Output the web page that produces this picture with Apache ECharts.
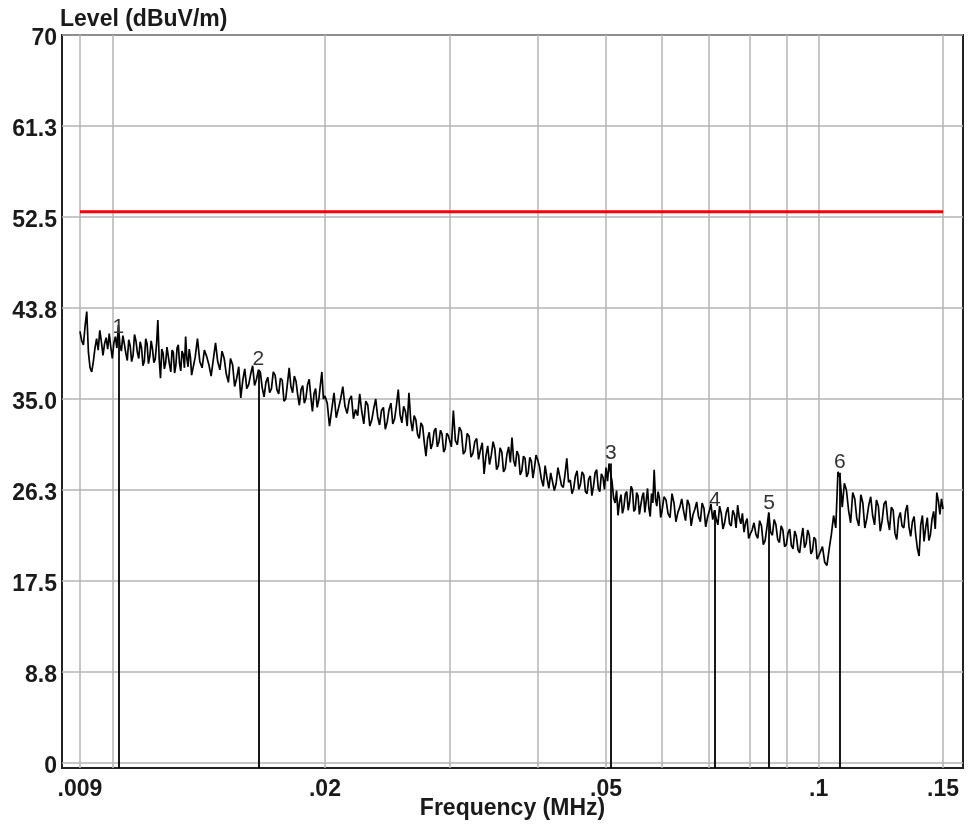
<!DOCTYPE html>
<html>
<head>
<meta charset="utf-8">
<title>Level (dBuV/m)</title>
<script src="https://cdn.jsdelivr.net/npm/echarts@6/dist/echarts.min.js"></script>
<style>
  html, body { margin: 0; padding: 0; background: #fff; }
  #chart { width: 970px; height: 831px; }
</style>
</head>
<body>
<div id="chart"></div>
<script type="text/javascript">
  var freq = [
    0.00900,0.00905,0.00910,0.00915,0.00920,0.00925,0.00930,0.00935,0.00940,0.00945,
    0.00950,0.00955,0.00960,0.00965,0.00970,0.00975,0.00980,0.00985,0.00990,0.00995,
    0.01000,0.01005,0.01010,0.01015,0.01020,0.01025,0.01030,0.01035,0.01040,0.01045,
    0.01050,0.01055,0.01060,0.01065,0.01070,0.01075,0.01080,0.01085,0.01090,0.01095,
    0.01100,0.01105,0.01110,0.01115,0.01120,0.01125,0.01130,0.01135,0.01140,0.01145,
    0.01150,0.01155,0.01160,0.01165,0.01170,0.01175,0.01180,0.01185,0.01190,0.01195,
    0.01200,0.01205,0.01210,0.01215,0.01220,0.01225,0.01230,0.01235,0.01240,0.01245,
    0.01250,0.01255,0.01260,0.01265,0.01270,0.01275,0.01280,0.01285,0.01290,0.01295,
    0.01300,
    0.0131,0.0132,0.0133,0.0134,0.0135,0.0136,0.0137,0.0138,0.0139,0.0140,
    0.0141,0.0142,0.0143,0.0144,0.0145,0.0146,0.0147,0.0148,0.0149,0.0150,
    0.0151,0.0152,0.0153,0.0154,0.0155,0.0156,0.0157,0.0158,0.0159,0.0160,
    0.0161,0.0162,0.0163,0.0164,0.0165,0.0166,0.0167,0.0168,0.0169,0.0170,
    0.0171,0.0172,0.0173,0.0174,0.0175,0.0176,0.0177,0.0178,0.0179,0.0180,
    0.0181,0.0182,0.0183,0.0184,0.0185,0.0186,0.0187,0.0188,0.0189,0.0190,
    0.0191,0.0192,0.0193,0.0194,0.0195,0.0196,0.0197,0.0198,0.0199,0.0200,
    0.02015,0.02030,0.02045,0.02060,0.02075,0.02090,0.02105,0.02120,0.02135,0.02150,
    0.02165,0.02180,0.02195,0.02210,0.02225,0.02240,0.02255,0.02270,0.02285,0.02300,
    0.02315,0.02330,0.02345,0.02360,0.02375,0.02390,0.02405,0.02420,0.02435,0.02450,
    0.02465,0.02480,0.02495,0.02510,0.02525,0.02540,0.02555,0.02570,0.02585,0.02600,
    0.02615,0.02630,0.02645,0.02660,0.02675,0.02690,0.02705,0.02720,0.02735,0.02750,
    0.02765,0.02780,0.02795,0.02810,0.02825,0.02840,0.02855,0.02870,0.02885,0.02900,
    0.02915,0.02930,0.02945,0.02960,0.02975,0.02990,
    0.0302,0.0304,0.0306,0.0308,0.0310,0.0312,0.0314,0.0316,0.0318,0.0320,
    0.0322,0.0324,0.0326,0.0328,0.0330,0.0332,0.0334,0.0336,0.0338,0.0340,
    0.0342,0.0344,0.0346,0.0348,0.0350,0.0352,0.0354,0.0356,0.0358,0.0360,
    0.0362,0.0364,0.0366,0.0368,0.0370,0.0372,0.0374,0.0376,0.0378,0.0380,
    0.0382,0.0384,0.0386,0.0388,0.0390,0.0392,0.0394,0.0396,0.0398,0.0400,
    0.04025,0.04050,0.04075,0.04100,0.04125,0.04150,0.04175,0.04200,0.04225,0.04250,
    0.04275,0.04300,0.04325,0.04350,0.04375,0.04400,0.04425,0.04450,0.04475,0.04500,
    0.04525,0.04550,0.04575,0.04600,0.04625,0.04650,0.04675,0.04700,0.04725,0.04750,
    0.04775,0.04800,0.04825,0.04850,0.04875,0.04900,0.04925,0.04950,0.04975,0.05000,
    0.05025,0.05050,0.05075,0.05100,0.05125,0.05150,0.05175,0.05200,0.05225,0.05250,
    0.05275,0.05300,0.05325,0.05350,0.05375,0.05400,0.05425,0.05450,0.05475,0.05500,
    0.05525,0.05550,0.05575,0.05600,0.05625,0.05650,0.05675,0.05700,0.05725,0.05750,
    0.05775,0.05800,0.05825,0.05850,0.05875,0.05900,0.05925,0.05950,0.05975,0.06000,
    0.0604,0.0608,0.0612,0.0616,0.0620,0.0624,0.0628,0.0632,0.0636,0.0640,
    0.0644,0.0648,0.0652,0.0656,0.0660,0.0664,0.0668,0.0672,0.0676,0.0680,
    0.0684,0.0688,0.0692,0.0696,0.0700,0.0704,0.0708,0.0712,0.0716,0.0720,
    0.0724,0.0728,0.0732,0.0736,0.0740,0.0744,0.0748,0.0752,0.0756,0.0760,
    0.0764,0.0768,0.0772,0.0776,0.0780,0.0784,0.0788,0.0792,0.0796,0.0800,
    0.0805,0.0810,0.0815,0.0820,0.0825,0.0830,0.0835,0.0840,0.0845,0.0850,
    0.0855,0.0860,0.0865,0.0870,0.0875,0.0880,0.0885,0.0890,0.0895,0.0900,
    0.0905,0.0910,0.0915,0.0920,0.0925,0.0930,0.0935,0.0940,0.0945,0.0950,
    0.0955,0.0960,0.0965,0.0970,0.0975,0.0980,0.0985,0.0990,0.0995,0.1000,
    0.10125,0.10200,0.10275,0.10350,0.10425,0.10500,0.10575,0.10650,0.10725,0.10800,
    0.10875,0.10950,0.11025,0.11100,0.11175,0.11250,0.11325,0.11400,0.11475,0.11550,
    0.11625,0.11700,0.11775,0.11850,0.11925,0.12000,0.12075,0.12150,0.12225,0.12300,
    0.12375,0.12450,0.12525,0.12600,0.12675,0.12750,0.12825,0.12900,0.12975,0.13050,
    0.13125,0.13200,0.13275,0.13350,0.13425,0.13500,0.13575,0.13650,0.13725,0.13800,
    0.13875,0.13950,0.14025,0.14100,0.14175,0.14250,0.14325,0.14400,0.14475,0.14550,
    0.14625,0.14700,0.14775,0.14850,0.14925,0.15000
  ];
  var level = [
    41.5,40.6,40.2,42.0,43.4,39.5,38.0,37.6,38.6,39.9,
    40.8,39.7,41.6,40.5,39.2,40.3,40.9,39.8,41.3,40.0,
    38.9,40.4,41.0,39.9,42.1,40.2,39.6,41.1,40.3,39.4,
    38.7,40.7,40.1,38.6,39.2,41.2,40.6,39.5,38.9,40.5,
    39.9,38.2,38.6,40.8,40.3,38.4,39.1,40.6,39.8,38.5,
    38.8,40.2,42.6,38.9,37.0,39.8,39.4,37.9,38.5,40.0,
    40.1,38.3,37.6,39.7,39.5,37.5,38.2,39.9,40.2,38.4,
    37.7,39.6,39.3,38.0,41.0,38.9,38.1,39.8,39.0,37.3,
    37.4,
    39.0,40.8,38.6,38.0,39.7,39.1,38.3,37.2,38.8,40.4,
    38.6,37.8,39.6,38.9,37.4,36.6,38.9,38.3,36.2,37.0,
    38.1,35.1,36.8,37.9,36.0,36.4,37.4,38.2,36.3,36.9,
    37.8,37.6,36.1,35.2,36.6,37.1,35.6,36.0,37.6,37.3,
    35.9,35.5,37.0,36.8,34.8,35.0,36.5,38.0,36.2,35.6,
    37.2,36.7,35.4,34.4,35.9,36.3,34.6,35.1,36.4,36.9,
    35.2,33.8,35.5,36.0,34.2,34.9,36.3,37.6,35.0,35.3,
    34.6,32.4,34.0,35.6,33.2,34.1,35.0,36.2,34.3,33.6,
    34.9,35.3,33.1,34.0,33.4,35.5,33.8,32.6,34.8,34.4,
    32.4,33.0,34.1,35.0,33.3,32.5,33.9,34.2,32.1,32.8,
    34.0,34.6,32.6,33.1,34.4,35.9,33.5,32.7,34.3,33.8,
    32.4,35.6,33.0,31.9,33.4,33.0,31.6,31.2,32.7,32.4,
    30.8,29.5,31.2,31.8,30.2,30.7,31.9,32.2,30.4,30.9,
    32.0,31.6,29.9,30.2,31.7,31.5,
    30.4,33.9,31.0,30.6,32.3,31.9,29.7,30.0,31.7,31.4,
    29.4,29.8,30.9,31.2,29.2,30.1,30.8,27.8,29.5,30.5,
    28.7,29.6,30.9,30.2,28.2,28.6,30.3,29.9,28.0,28.3,
    29.7,30.4,28.9,31.3,29.1,28.5,30.0,29.6,27.7,28.1,
    29.5,29.3,27.5,27.9,29.4,29.0,27.4,28.4,29.6,29.2,
    28.5,27.3,26.6,28.6,27.4,26.4,27.9,28.0,26.2,26.9,
    28.4,28.3,26.7,26.5,27.8,29.3,27.0,27.2,25.9,26.4,
    27.6,28.1,26.3,26.8,28.0,27.7,26.1,25.9,27.3,27.6,
    25.7,26.6,27.9,28.2,26.4,26.1,27.8,27.5,26.3,28.4,
    27.1,28.8,28.9,27.0,25.5,25.0,26.2,23.8,25.1,25.8,
    24.0,24.6,25.9,26.1,24.3,25.1,26.6,26.3,24.2,24.4,
    26.0,25.7,23.9,24.8,25.6,26.0,24.1,25.2,26.4,24.5,
    23.7,25.9,25.0,28.2,25.4,24.7,26.1,25.5,23.6,24.2,
    25.6,25.3,24.0,23.6,25.9,25.0,23.2,24.1,24.6,25.4,
    24.2,23.3,25.3,24.8,22.8,23.9,24.4,25.1,23.7,23.2,
    25.0,24.5,22.7,23.6,24.2,24.9,23.4,24.3,23.5,22.9,
    24.7,24.0,22.5,23.1,24.1,24.6,23.0,22.8,24.3,23.9,
    22.6,24.8,23.6,23.0,24.0,22.2,23.1,23.5,21.6,22.0,
    22.4,23.1,22.0,21.6,23.3,22.8,21.0,21.4,22.7,24.1,
    22.2,21.9,23.4,22.9,21.5,21.2,22.8,22.4,20.8,21.0,
    22.1,22.5,20.9,20.6,22.3,21.8,20.5,20.2,21.6,22.6,
    20.7,21.1,22.4,21.9,20.1,20.4,21.7,21.5,19.6,19.9,
    20.8,19.3,19.0,20.6,22.0,23.8,22.6,28.0,27.4,24.6,
    26.9,26.2,24.3,23.1,26.0,25.4,23.5,22.8,25.8,25.0,
    22.6,23.5,24.8,25.6,23.8,22.9,25.3,24.7,22.3,23.3,
    24.9,25.2,23.4,22.4,24.6,24.3,22.1,21.5,23.5,24.1,
    22.8,22.6,24.2,24.8,22.7,21.8,23.2,23.7,21.9,20.6,
    19.9,22.9,23.8,21.3,22.6,23.6,21.4,22.0,23.5,24.2,
    22.5,26.0,25.2,23.9,25.4,24.4
  ];

  // limit line
  var limitFreq = [0.009, 0.15];
  var limitLevel = [53, 53];

  // peak markers
  var markerFreq = [0.0102, 0.0161, 0.0508, 0.0713, 0.0851, 0.1072];
  var markerLevel = [40.9, 37.8, 28.8, 24.3, 24.0, 27.9];
  var markerName = ['1', '2', '3', '4', '5', '6'];

  // axes
  var xGridValues = [0.009, 0.01, 0.02, 0.03, 0.04, 0.05, 0.06, 0.07, 0.08, 0.09, 0.1, 0.15];
  var xTickValues = [0.009, 0.02, 0.05, 0.1, 0.15];
  var xTickLabels = ['.009', '.02', '.05', '.1', '.15'];
  var yTickValues = [0, 8.75, 17.5, 26.25, 35, 43.75, 52.5, 61.25, 70];
  var yTickLabels = ['0', '8.8', '17.5', '26.3', '35.0', '43.8', '52.5', '61.3', '70'];

  var yMin = -0.48;
  var font = '"Liberation Sans", Arial, sans-serif';
  var textColor = '#1a1a1a';
  var gridColor = '#b4b4b4';

  var traceData = freq.map(function (f, i) { return [f, level[i]]; });
  var limitData = limitFreq.map(function (f, i) { return [f, limitLevel[i]]; });

  var gridLines = xGridValues.map(function (v) {
    var k = xTickValues.indexOf(v);
    return {
      xAxis: v,
      label: { show: k >= 0, formatter: k >= 0 ? xTickLabels[k] : '' }
    };
  });

  var markerLines = markerFreq.map(function (f, i) {
    return [
      { coord: [f, yMin] },
      { coord: [f, markerLevel[i]], label: { formatter: markerName[i] } }
    ];
  });

  var chart = echarts.init(document.getElementById('chart'));
  var option = {
    animation: false,
    backgroundColor: '#fff',
    title: {
      text: 'Level (dBuV/m)',
      left: 60,
      top: 8,
      padding: 0,
      textStyle: { fontFamily: font, fontSize: 23, fontWeight: 'bold', color: textColor }
    },
    grid: {
      left: 62, right: 7, top: 35, bottom: 63,
      outerBoundsMode: 'none',
      show: true,
      borderColor: '#222',
      borderWidth: 2
    },
    xAxis: {
      type: 'log',
      logBase: 10,
      min: 0.008487,
      max: 0.1601,
      name: 'Frequency (MHz)',
      nameLocation: 'middle',
      nameGap: 29,
      nameTextStyle: { fontFamily: font, fontSize: 23, fontWeight: 'bold', color: textColor },
      axisLine: { show: false },
      axisTick: { show: false },
      axisLabel: { show: false },
      splitLine: { show: false },
      minorTick: { show: false },
      minorSplitLine: { show: false }
    },
    yAxis: {
      type: 'value',
      min: yMin,
      max: 70,
      axisLine: { show: false },
      axisTick: { show: false, customValues: yTickValues },
      axisLabel: {
        customValues: yTickValues,
        margin: 5,
        verticalAlign: 'top',
        lineHeight: 8,
        fontFamily: font,
        fontSize: 23,
        fontWeight: 'bold',
        color: textColor,
        formatter: function (v) {
          var k = yTickValues.indexOf(v);
          return k >= 0 ? yTickLabels[k] : '';
        }
      },
      splitLine: { show: true, lineStyle: { color: gridColor, width: 1.5 } }
    },
    series: [
      {
        name: 'grid',
        type: 'line',
        data: limitData,
        showSymbol: false,
        lineStyle: { opacity: 0 },
        silent: true,
        z: 1,
        markLine: {
          silent: true,
          z: 1,
          precision: 4,
          symbol: ['none', 'none'],
          lineStyle: { color: gridColor, width: 1.5, type: 'solid' },
          label: {
            position: 'start',
            distance: 10,
            fontFamily: font,
            fontSize: 23,
            fontWeight: 'bold',
            color: textColor
          },
          emphasis: { disabled: true },
          data: gridLines
        }
      },
      {
        name: 'Level',
        type: 'line',
        data: traceData,
        showSymbol: false,
        lineStyle: { color: '#000', width: 1.7 },
        z: 3,
        markLine: {
          silent: true,
          z: 4,
          precision: 4,
          symbol: ['none', 'none'],
          lineStyle: { color: '#000', width: 1.8, type: 'solid' },
          label: {
            show: true,
            position: 'end',
            distance: 0,
            fontFamily: font,
            fontSize: 21,
            color: '#333'
          },
          emphasis: { disabled: true },
          data: markerLines
        }
      },
      {
        name: 'Limit',
        type: 'line',
        data: limitData,
        showSymbol: false,
        lineStyle: { color: '#ff0000', width: 3 },
        z: 3
      }
    ]
  };
  chart.setOption(option);
  window.onresize = function () {
    chart.resize();
  };
</script>
</body>
</html>
